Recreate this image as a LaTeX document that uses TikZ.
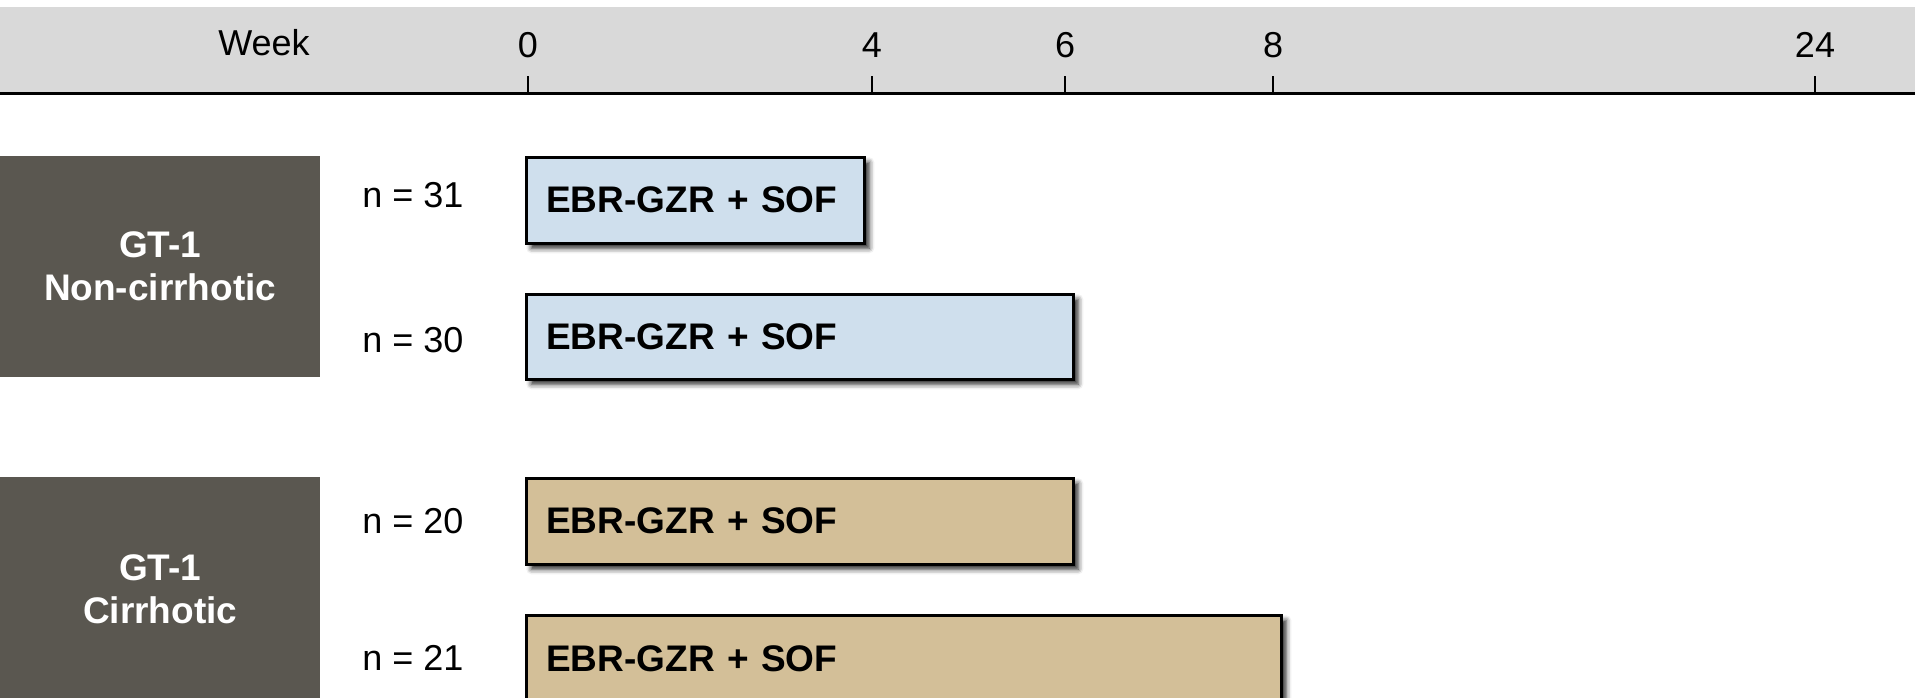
\documentclass[tikz,border=0pt]{standalone}
\usepackage{fontspec}
\setmainfont{Liberation Sans}
\usetikzlibrary{shadows.blur}
\definecolor{bandgray}{RGB}{217,217,217}
\definecolor{darkbox}{RGB}{90,87,80}
\definecolor{barblue}{RGB}{207,223,237}
\definecolor{bartan}{RGB}{211,191,152}
\begin{document}
\begin{tikzpicture}[x=1pt,y=-1pt,
  regtext/.style={font=\fontsize{36}{43}\selectfont, inner sep=0pt},
  group/.style={fill=darkbox, text=white, align=center, anchor=north west,
     font=\fontsize{37}{43}\selectfont\bfseries, inner sep=0pt},
  bar/.style={draw=black, line width=2.5pt, anchor=north west, align=left,
     inner xsep=20pt, inner ysep=0pt,
     font=\fontsize{37}{43}\selectfont\bfseries,
     blur shadow={shadow xshift=5pt, shadow yshift=-5pt, shadow blur radius=5pt, shadow opacity=85}},
  tick/.style={line width=2pt}
]
\useasboundingbox (0,0) rectangle (1915,697);
\clip (0,0) rectangle (1915,697);
% header band
\fill[bandgray] (0,7) rectangle (1915,93);
\coordinate (axL) at (0,93);
\coordinate (axR) at (1915,93);
\draw[line width=3pt] (axL) -- (axR);
\node[regtext] (week) at (264,43) {Week};
\foreach \nm/\xx in {0/528, 4/872, 6/1065, 8/1273, 24/1815}{
  \node[regtext] (t\nm) at (\xx,45) {\nm};
  \coordinate (tk\nm) at (\xx,76);
  \draw[tick] (tk\nm) -- (\xx,93);
}
% groups
\node[group, minimum width=320pt, minimum height=221pt] (g1) at (0,156) {GT-1\\Non-cirrhotic};
\node[group, minimum width=320pt, minimum height=224pt] (g2) at (0,477) {GT-1\\Cirrhotic};
% n labels
\node[regtext] (n1) at (413,195) {n = 31};
\node[regtext] (n2) at (413,340) {n = 30};
\node[regtext] (n3) at (413,521) {n = 20};
\node[regtext] (n4) at (413,658) {n = 21};
% bars
\node[bar, fill=barblue, text width=298pt, minimum height=86pt] (b1) at (525,156) {EBR-GZR + SOF};
\node[bar, fill=barblue, text width=507pt, minimum height=85pt] (b2) at (525,293) {EBR-GZR + SOF};
\node[bar, fill=bartan, text width=507pt, minimum height=86pt] (b3) at (525,477) {EBR-GZR + SOF};
\node[bar, fill=bartan, text width=715pt, minimum height=88pt] (b4) at (525,614) {EBR-GZR + SOF};
\end{tikzpicture}
\end{document}
